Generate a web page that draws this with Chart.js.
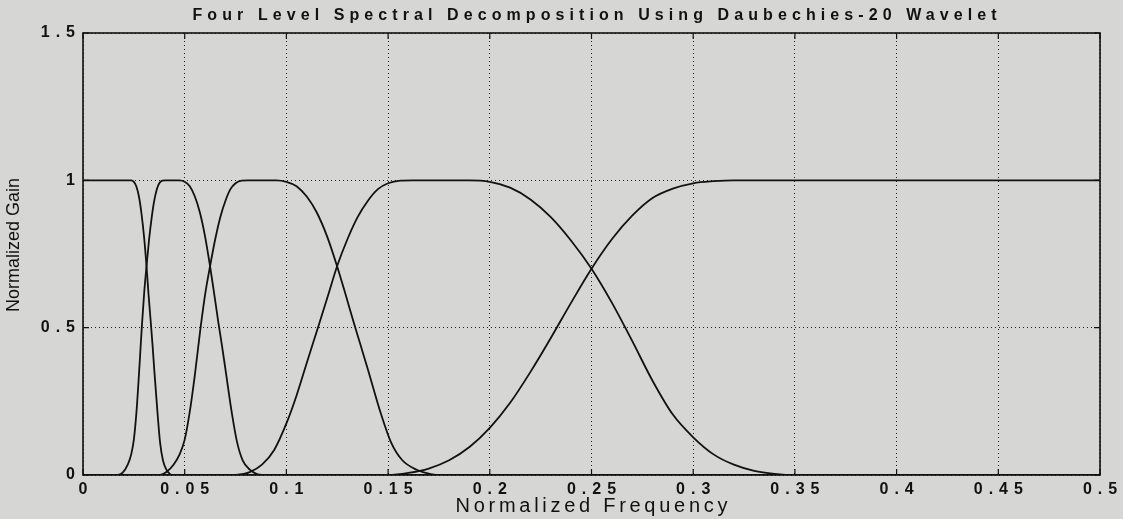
<!DOCTYPE html>
<html>
<head>
<meta charset="utf-8">
<title>Four Level Spectral Decomposition</title>
<script src="https://cdn.jsdelivr.net/npm/chart.js@4.4.0/dist/chart.umd.min.js"></script>
<style>
  html, body { margin: 0; padding: 0; background: #d6d7d5; }
  canvas { display: block; }
</style>
</head>
<body>
<canvas id="bandChart" width="1123" height="519"></canvas>
<script>
// axis ticks
const xTicks = [0, 0.05, 0.1, 0.15, 0.2, 0.25, 0.3, 0.35, 0.4, 0.45, 0.5];
const xTickLabels = ['0', '0.05', '0.1', '0.15', '0.2', '0.25', '0.3', '0.35', '0.4', '0.45', '0.5'];
const yTicks = [0, 0.5, 1, 1.5];
const yTickLabels = ['0', '0.5', '1', '1.5'];

// lowpass band (level 4)
const band1Freq = [0, 0.0100, 0.0200, 0.0237, 0.0250, 0.0262, 0.0275, 0.0287, 0.0300, 0.03125, 0.0322, 0.0333, 0.0342, 0.0350, 0.0367, 0.0379, 0.0393, 0.0410, 0.0428, 0.0440, 0.5];
const band1Gain = [1, 1, 1, 1, 0.995, 0.98, 0.945, 0.89, 0.81, 0.707, 0.615, 0.52, 0.44, 0.36, 0.205, 0.11, 0.05, 0.018, 0.003, 0, 0];

// detail band 4
const band2Freq = [0, 0.0170, 0.0195, 0.0220, 0.0237, 0.0250, 0.0263, 0.0275, 0.0289, 0.0301, 0.03125, 0.0325, 0.0338, 0.0350, 0.0363, 0.0375, 0.0390, 0.0405, 0.0475, 0.0500, 0.0525, 0.0550, 0.0575, 0.0600, 0.0625, 0.0645, 0.0665, 0.0683, 0.0700, 0.0733, 0.0758, 0.0785, 0.0820, 0.0855, 0.0880, 0.5];
const band2Gain = [0, 0, 0.008, 0.035, 0.07, 0.12, 0.215, 0.34, 0.50, 0.62, 0.71, 0.80, 0.875, 0.93, 0.97, 0.99, 0.999, 1, 1, 0.995, 0.98, 0.945, 0.89, 0.81, 0.707, 0.615, 0.52, 0.44, 0.36, 0.205, 0.11, 0.05, 0.018, 0.003, 0, 0];

// detail band 3
const band3Freq = [0, 0.0380, 0.0410, 0.0445, 0.0475, 0.0500, 0.0525, 0.0550, 0.0578, 0.0602, 0.0625, 0.0650, 0.0675, 0.0700, 0.0725, 0.0750, 0.0780, 0.0810, 0.0950, 0.1000, 0.1050, 0.1100, 0.1150, 0.1200, 0.1250, 0.1290, 0.1330, 0.1365, 0.1400, 0.1466, 0.1515, 0.1570, 0.1640, 0.1710, 0.1760, 0.5];
const band3Gain = [0, 0, 0.01, 0.035, 0.07, 0.12, 0.215, 0.34, 0.50, 0.62, 0.71, 0.80, 0.875, 0.93, 0.97, 0.99, 0.999, 1, 1, 0.995, 0.98, 0.945, 0.89, 0.81, 0.707, 0.615, 0.52, 0.44, 0.36, 0.205, 0.11, 0.05, 0.018, 0.003, 0, 0];

// detail band 2
const band4Freq = [0, 0.0750, 0.0820, 0.0880, 0.0940, 0.1000, 0.1050, 0.1100, 0.1155, 0.1205, 0.1250, 0.1300, 0.1350, 0.1400, 0.1450, 0.1500, 0.1560, 0.1620, 0.1900, 0.2000, 0.2100, 0.2200, 0.2300, 0.2400, 0.2500, 0.2600, 0.2700, 0.2800, 0.2900, 0.3000, 0.3100, 0.3200, 0.3300, 0.3400, 0.3500, 0.5];
const band4Gain = [0, 0, 0.01, 0.035, 0.085, 0.175, 0.27, 0.38, 0.50, 0.61, 0.71, 0.80, 0.875, 0.93, 0.97, 0.99, 0.999, 1, 1, 0.995, 0.975, 0.935, 0.875, 0.795, 0.70, 0.585, 0.455, 0.32, 0.205, 0.128, 0.07, 0.035, 0.014, 0.004, 0, 0];

// detail band 1 (highpass)
const band5Freq = [0, 0.1500, 0.1600, 0.1700, 0.1800, 0.1900, 0.2000, 0.2100, 0.2200, 0.2300, 0.2400, 0.2500, 0.2600, 0.2700, 0.2800, 0.2900, 0.3000, 0.3100, 0.3200, 0.5];
const band5Gain = [0, 0, 0.007, 0.022, 0.05, 0.095, 0.16, 0.245, 0.35, 0.465, 0.585, 0.70, 0.80, 0.88, 0.94, 0.972, 0.99, 0.997, 1, 1];

const chartTitle = 'Four Level Spectral Decomposition Using Daubechies-20 Wavelet';
const xTitle = 'Normalized Frequency';
const yTitle = 'Normalized Gain';

const INK = '#111';
const LABEL_SPACING = 6;

function toPoints(freq, gain) {
  return freq.map((f, i) => ({ x: f, y: gain[i] }));
}

function bandDataset(freq, gain) {
  return {
    data: toPoints(freq, gain),
    borderColor: INK,
    borderWidth: 1.8,
    pointRadius: 0,
    fill: false,
    cubicInterpolationMode: 'monotone'
  };
}

// draws text with extra letter spacing so it spans a given width
function spacedText(ctx, text, cx, cy, width) {
  ctx.letterSpacing = '0px';
  const w0 = ctx.measureText(text).width;
  const s = Math.max(0, (width - w0) / (text.length - 1));
  ctx.letterSpacing = s + 'px';
  ctx.textAlign = 'left';
  ctx.textBaseline = 'middle';
  ctx.fillText(text, cx - width / 2, cy);
}

const framePlugin = {
  id: 'frame',
  beforeDraw(chart) {
    const ctx = chart.ctx;
    ctx.save();
    ctx.fillStyle = '#d6d7d5';
    ctx.fillRect(0, 0, chart.width, chart.height);
    ctx.restore();
    ctx.letterSpacing = LABEL_SPACING + 'px';
  },
  afterDraw(chart) {
    const ctx = chart.ctx;
    const a = chart.chartArea;
    const xs = chart.scales.x, ys = chart.scales.y;
    ctx.letterSpacing = '0px';
    ctx.save();
    ctx.strokeStyle = INK;
    ctx.lineWidth = 1.6;
    ctx.strokeRect(a.left, a.top, a.right - a.left, a.bottom - a.top);
    // inward tick marks
    ctx.lineWidth = 1.2;
    ctx.beginPath();
    xTicks.forEach(v => {
      const px = xs.getPixelForValue(v);
      ctx.moveTo(px, a.bottom); ctx.lineTo(px, a.bottom - 6);
      ctx.moveTo(px, a.top); ctx.lineTo(px, a.top + 6);
    });
    yTicks.forEach(v => {
      const py = ys.getPixelForValue(v);
      ctx.moveTo(a.left, py); ctx.lineTo(a.left + 6, py);
      ctx.moveTo(a.right, py); ctx.lineTo(a.right - 6, py);
    });
    ctx.stroke();

    ctx.fillStyle = INK;
    const mid = (a.left + a.right) / 2;
    ctx.font = 'bold 16px "Liberation Sans", Arial, sans-serif';
    spacedText(ctx, chartTitle, mid + 3, 16, 804);
    ctx.font = '20px "Liberation Sans", Arial, sans-serif';
    spacedText(ctx, xTitle, mid, 506, 272);
    ctx.translate(14, (a.top + a.bottom) / 2 - 9);
    ctx.rotate(-Math.PI / 2);
    ctx.font = '18px "Liberation Sans", Arial, sans-serif';
    spacedText(ctx, yTitle, 0, 0, 134);
    ctx.restore();
    ctx.letterSpacing = '0px';
  }
};

const tickFont = { family: '"Liberation Sans", Arial, sans-serif', size: 16, weight: 'bold' };

new Chart(document.getElementById('bandChart').getContext('2d'), {
  type: 'line',
  data: {
    datasets: [
      bandDataset(band1Freq, band1Gain),
      bandDataset(band2Freq, band2Gain),
      bandDataset(band3Freq, band3Gain),
      bandDataset(band4Freq, band4Gain),
      bandDataset(band5Freq, band5Gain)
    ]
  },
  options: {
    responsive: false,
    animation: false,
    layout: { padding: { left: 0, right: 23, top: 33, bottom: 0 } },
    plugins: {
      legend: { display: false },
      tooltip: { enabled: false },
      title: { display: false }
    },
    scales: {
      x: {
        type: 'linear',
        min: 0,
        max: 0.5,
        afterBuildTicks: s => { s.ticks = xTicks.map(v => ({ value: v })); },
        afterFit: s => { s.height = 44; },
        ticks: {
          autoSkip: false,
          maxRotation: 0,
          padding: 5,
          labelOffset: LABEL_SPACING / 2,
          color: INK,
          font: tickFont,
          callback: (v, i) => xTickLabels[i]
        },
        grid: { color: '#222', lineWidth: 1, drawTicks: false },
        border: { display: false, dash: [1, 3] }
      },
      y: {
        type: 'linear',
        min: 0,
        max: 1.5,
        afterBuildTicks: s => { s.ticks = yTicks.map(v => ({ value: v })); },
        afterFit: s => { s.width = 83; },
        ticks: {
          padding: 2,
          color: INK,
          font: tickFont,
          callback: (v, i) => yTickLabels[i]
        },
        grid: { color: '#222', lineWidth: 1, drawTicks: false },
        border: { display: false, dash: [1, 3] }
      }
    }
  },
  plugins: [framePlugin]
});
</script>
</body>
</html>
